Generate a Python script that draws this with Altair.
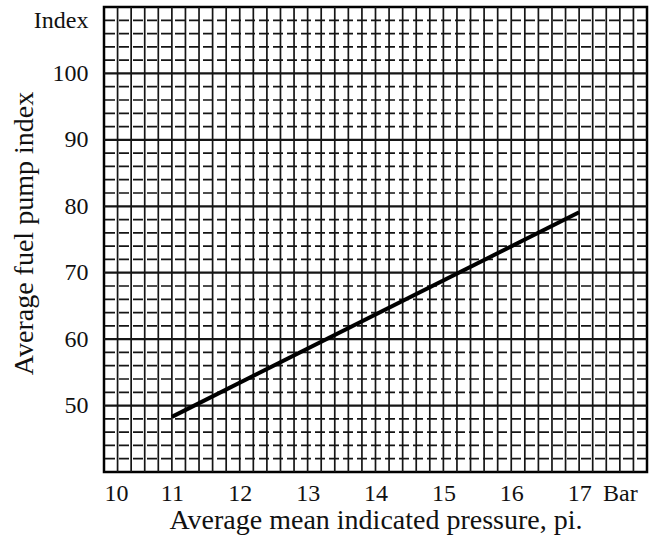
import altair as alt
import pandas as pd

# Data
pressure = [11.0, 17.0]          # Average mean indicated pressure, bar
fuel_index = [48.3, 79.1]        # Average fuel pump index

x_tick_values = [10, 11, 12, 13, 14, 15, 16, 17, 17.6]
y_tick_values = [50, 60, 70, 80, 90, 100, 108]

x_grid = [round(10 + 0.2 * i, 1) for i in range(1, 40)]
y_minor = [v for v in range(42, 110, 2) if v % 10 != 0]
y_major = [50, 60, 70, 80, 90, 100]

xscale = alt.Scale(domain=[10, 18], nice=False, zero=False)
yscale = alt.Scale(domain=[40, 110], nice=False, zero=False)

FONT = "Liberation Serif"

x_axis = alt.Axis(
    values=x_tick_values,
    labelExpr="datum.value > 17.5 ? 'Bar' : datum.label",
    grid=False, ticks=False, domain=False,
    labelFont=FONT, labelFontSize=24, labelColor="#111", labelFontWeight="normal",
    labelBaseline="alphabetic", labelPadding=28,
    title="Average mean indicated pressure, pi.",
    titleFont=FONT, titleFontSize=28, titleFontWeight="normal",
    titleColor="#111", titleBaseline="alphabetic", titleY=56,
)
y_axis = alt.Axis(
    values=y_tick_values,
    labelExpr="datum.value > 105 ? 'Index' : datum.label",
    grid=False, ticks=False, domain=False,
    labelFont=FONT, labelFontSize=24, labelColor="#111", labelFontWeight="normal",
    labelPadding=16, labelBaseline="middle",
    title="Average fuel pump index",
    titleFont=FONT, titleFontSize=28, titleFontWeight="normal",
    titleColor="#111", titleBaseline="middle", titleX=-80, titleY=226,
)

vrules = alt.Chart(pd.DataFrame({"x": x_grid})).mark_rule(
    color="#151515", strokeWidth=1.7
).encode(x=alt.X("x:Q", scale=xscale, axis=x_axis))

hminor = alt.Chart(pd.DataFrame({"y": y_minor})).mark_rule(
    color="#151515", strokeWidth=1.7, strokeDash=[10, 4]
).encode(y=alt.Y("y:Q", scale=yscale, axis=y_axis))

hmajor = alt.Chart(pd.DataFrame({"y": y_major})).mark_rule(
    color="#151515", strokeWidth=2.2
).encode(y=alt.Y("y:Q", scale=yscale, axis=y_axis))

line = alt.Chart(pd.DataFrame({"x": pressure, "y": fuel_index})).mark_line(
    color="black", strokeWidth=4
).encode(
    x=alt.X("x:Q", scale=xscale, axis=x_axis),
    y=alt.Y("y:Q", scale=yscale, axis=y_axis),
)

chart = alt.layer(vrules, hminor, hmajor, line).properties(
    width=543,
    height=465,
    autosize=alt.AutoSizeParams(type="none"),
    padding={"left": 104, "top": 7, "right": 9, "bottom": 72},
    background="white",
).configure_view(stroke="black", strokeWidth=2.5)

chart.save("out.html", embed_options={"renderer": "svg", "actions": False})
